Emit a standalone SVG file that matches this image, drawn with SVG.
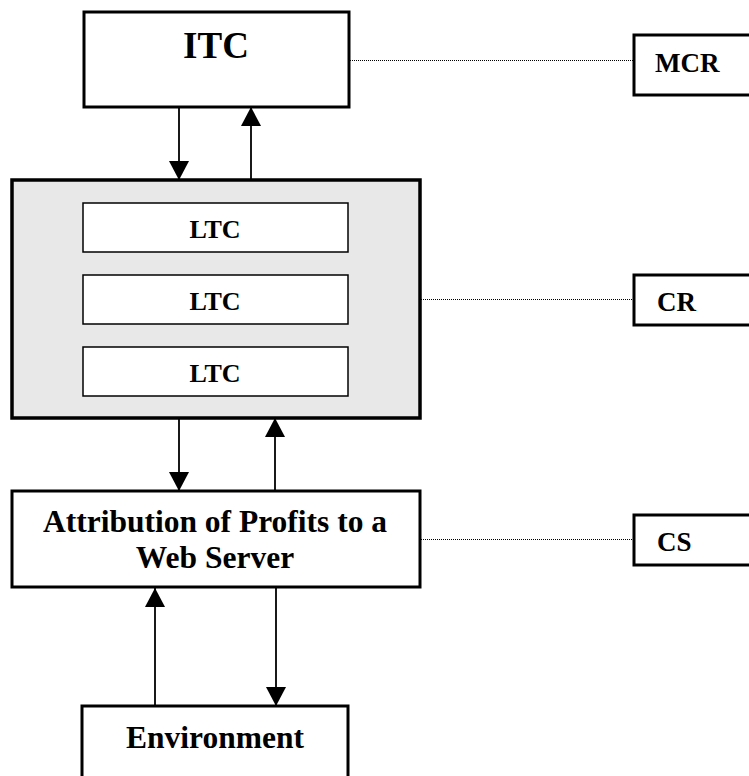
<svg xmlns="http://www.w3.org/2000/svg" width="749" height="776" viewBox="0 0 749 776">
<style>
text{font-family:"Liberation Serif","Times New Roman",serif;font-weight:bold;fill:#000}
.box{fill:#fff;stroke:#000;stroke-width:3}
.inner{fill:#fff;stroke:#000;stroke-width:1.5}
.gray{fill:#e8e8e8;stroke:#000;stroke-width:3.5}
.arrow{stroke:#000;stroke-width:1.8;fill:none;marker-end:url(#ah)}
.dot{stroke:#000;stroke-width:1;stroke-dasharray:1 1;fill:none}
</style>
<defs>
<marker id="ah" markerUnits="userSpaceOnUse" markerWidth="20" markerHeight="20" refX="19" refY="10" orient="auto">
<path d="M0,0 L19,10 L0,20 z" fill="#000"/>
</marker>
</defs>
<rect width="749" height="776" fill="#fff"/>
<g id="connectors">
<line class="arrow" x1="179" y1="107" x2="179" y2="180"/>
<line class="arrow" x1="251" y1="180" x2="251" y2="107"/>
<line class="arrow" x1="179" y1="418" x2="179" y2="491"/>
<line class="arrow" x1="275" y1="491" x2="275" y2="418"/>
<line class="arrow" x1="155" y1="706" x2="155" y2="588"/>
<line class="arrow" x1="276" y1="588" x2="276" y2="706"/>
<line class="dot" x1="350" y1="60.5" x2="633" y2="60.5"/>
<line class="dot" x1="421" y1="299.5" x2="633" y2="299.5"/>
<line class="dot" x1="421" y1="539.5" x2="633" y2="539.5"/>
</g>
<g id="itc">
<rect class="box" x="84" y="12" width="265" height="95"/>
<text x="216" y="58" font-size="37" text-anchor="middle">ITC</text>
</g>
<g id="cr-group">
<rect class="gray" x="12" y="180" width="408" height="238"/>
</g>
<g id="ltc1">
<rect class="inner" x="83" y="203" width="265" height="49"/>
<text x="215" y="238" font-size="26" text-anchor="middle">LTC</text>
</g>
<g id="ltc2">
<rect class="inner" x="83" y="275" width="265" height="49"/>
<text x="215" y="310" font-size="26" text-anchor="middle">LTC</text>
</g>
<g id="ltc3">
<rect class="inner" x="83" y="347" width="265" height="49"/>
<text x="215" y="382" font-size="26" text-anchor="middle">LTC</text>
</g>
<g id="attribution">
<rect class="box" x="12" y="491" width="408" height="96"/>
<text x="215" y="532" font-size="31.5" text-anchor="middle">Attribution of Profits to a</text>
<text x="215" y="568" font-size="31.5" text-anchor="middle">Web Server</text>
</g>
<g id="environment">
<rect class="box" x="82" y="706" width="266" height="80"/>
<text x="215" y="748" font-size="31.5" text-anchor="middle">Environment</text>
</g>
<g id="mcr">
<rect class="box" x="634" y="35" width="130" height="60"/>
<text x="655" y="72" font-size="27">MCR</text>
</g>
<g id="cr">
<rect class="box" x="634" y="275" width="130" height="50"/>
<text x="657" y="311" font-size="27">CR</text>
</g>
<g id="cs">
<rect class="box" x="634" y="515" width="130" height="50"/>
<text x="657" y="551" font-size="27">CS</text>
</g>
</svg>
